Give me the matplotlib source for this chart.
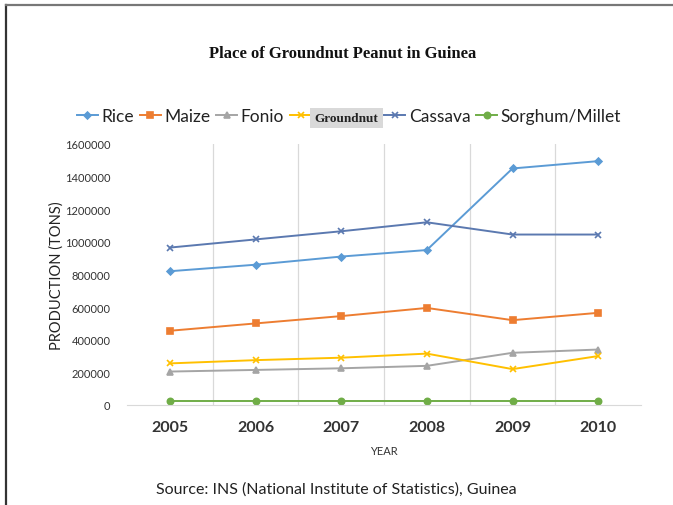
import matplotlib
matplotlib.use("Agg")
import matplotlib.pyplot as plt
from matplotlib.lines import Line2D

years = [2005, 2006, 2007, 2008, 2009, 2010]
rice = [820000, 860000, 910000, 950000, 1450000, 1495000]
maize = [455000, 500000, 545000, 595000, 520000, 565000]
fonio = [205000, 215000, 225000, 240000, 320000, 340000]
groundnut = [255000, 275000, 290000, 315000, 220000, 300000]
cassava = [965000, 1015000, 1065000, 1120000, 1045000, 1045000]
sorghum_millet = [25000, 25000, 25000, 25000, 25000, 25000]

series_names = ["Rice", "Maize", "Fonio", "Groundnut", "Cassava", "Sorghum/Millet"]
y_ticks = [0, 200000, 400000, 600000, 800000, 1000000, 1200000, 1400000, 1600000]

colors = ["#5b9bd5", "#ed7d31", "#a5a5a5", "#ffc000", "#5b79b0", "#70ad47"]
markers = ["D", "s", "^", "x", "x", "o"]
msizes = [3.5, 4.5, 4.5, 4.5, 4.5, 4.5]

plt.rcParams["font.family"] = ["Lato", "DejaVu Sans"]

fig = plt.figure(figsize=(6.73, 5.06), dpi=100)
ax = fig.add_axes([127 / 673, 1 - 406 / 506, 514 / 673, 261 / 506])

data = [rice, maize, fonio, groundnut, cassava, sorghum_millet]
handles = []
for vals, c, m, ms in zip(data, colors, markers, msizes):
    h, = ax.plot(years, vals, color=c, marker=m, markersize=ms, linewidth=1.4,
                 markeredgewidth=1.2)
    handles.append(h)

ax.set_xlim(2004.5, 2010.5)
ax.set_ylim(0, 1600000)
ax.set_xticks(years)
ax.set_xticklabels([str(y) for y in years], fontsize=11.5, fontweight="bold",
                   color="#333333")
ax.set_yticks(y_ticks)
ax.set_yticklabels([str(v) for v in y_ticks], fontsize=8, color="#333333")
ax.tick_params(length=0)
ax.tick_params(axis="x", pad=11)
ax.tick_params(axis="y", pad=12)

# category separators
for xb in [2005.5, 2006.5, 2007.5, 2008.5, 2009.5]:
    ax.axvline(xb, color="#d9d9d9", linewidth=0.9, zorder=0)

for side in ["top", "right", "left"]:
    ax.spines[side].set_visible(False)
ax.spines["bottom"].set_color("#d9d9d9")

ax.set_ylabel("PRODUCTION (TONS)", fontsize=10.5, color="#222222", labelpad=1)
ax.set_xlabel("YEAR", fontsize=8, color="#333333", labelpad=8)

fig.text(343 / 673, 1 - 54 / 506, "Place of Groundnut Peanut in Guinea",
         family="Liberation Serif", fontweight="bold", fontsize=12,
         ha="center", va="center", color="#111111")

leg = fig.legend(handles, series_names, loc="center", ncol=6,
                 bbox_to_anchor=(349 / 673, 1 - 117 / 506), frameon=False,
                 fontsize=12.5, handlelength=1.2, handletextpad=0.2,
                 columnspacing=0.35)
gt = leg.get_texts()[3]
gt.set_fontfamily("Liberation Serif")
gt.set_fontweight("bold")
gt.set_fontsize(9.5)
gt.set_bbox(dict(facecolor="#d9d9d9", edgecolor="none", pad=3))
for t in leg.get_texts():
    t.set_color("#222222")

fig.text(336 / 673, 1 - 490 / 506,
         "Source: INS (National Institute of Statistics), Guinea",
         fontsize=11.5, ha="center", va="center", color="#222222")

# page frame
fig.add_artist(Line2D([6 / 673, 6 / 673], [0, 1 - 6 / 506],
                      transform=fig.transFigure, color="#333333", linewidth=1.6))
fig.add_artist(Line2D([6 / 673, 1], [1 - 6 / 506, 1 - 6 / 506],
                      transform=fig.transFigure, color="#777777", linewidth=1.6))

fig.savefig("out.png", dpi=100)
